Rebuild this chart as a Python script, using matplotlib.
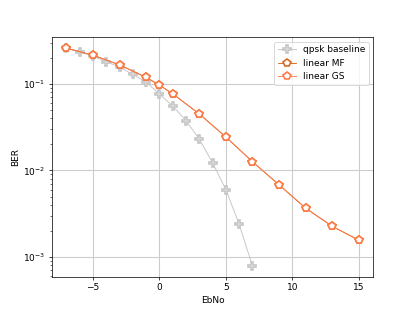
import matplotlib
matplotlib.use("Agg")
import matplotlib.pyplot as plt

ebno_qpsk = [-7, -6, -5, -4, -3, -2, -1, 0, 1, 2, 3, 4, 5, 6, 7]
ber_qpsk = [0.258, 0.235, 0.210, 0.181, 0.156, 0.129, 0.105, 0.0766, 0.0557,
            0.0377, 0.023, 0.0123, 0.00603, 0.0024, 0.00079]

ebno_lin = [-7, -5, -3, -1, 0, 1, 3, 5, 7, 9, 11, 13, 15]
ber_mf = [0.259, 0.215, 0.166, 0.119, 0.097, 0.077, 0.045, 0.0244, 0.01264,
          0.00684, 0.00368, 0.00227, 0.00157]
ber_gs = ber_mf

fig, ax = plt.subplots(figsize=(6.4, 4.8), dpi=64.8)
ax.semilogy(ebno_qpsk, ber_qpsk, color="#c4c4c4", marker="P", markersize=9,
            markerfacecolor="white", markeredgecolor="#c4c4c4",
            markeredgewidth=1.8, linewidth=1, label="qpsk baseline")
ax.semilogy(ebno_lin, ber_mf, color="#d9661f", marker="p", markersize=9,
            markerfacecolor="white", markeredgewidth=1.8, linewidth=1,
            label="linear MF")
ax.semilogy(ebno_lin, ber_gs, color="#ff7a45", marker="p", markersize=9,
            markerfacecolor="white", markeredgewidth=1.8, linewidth=1,
            label="linear GS")
ax.grid(True, which="major", color="#cccccc", linewidth=1.2)
ax.set_xlabel("EbNo")
ax.set_ylabel("BER")
ax.legend(loc="upper right")
fig.savefig("out.png", dpi=64.8)
